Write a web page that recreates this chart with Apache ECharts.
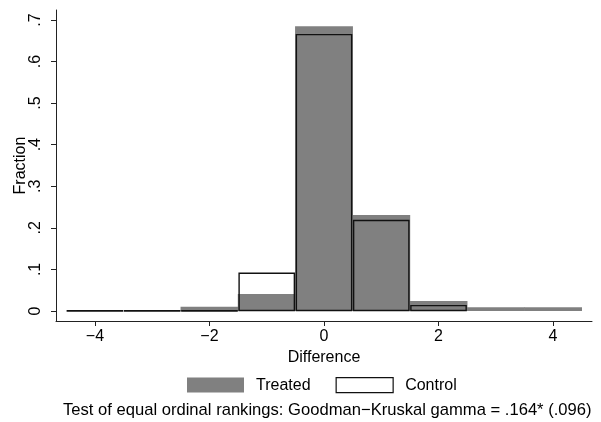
<!DOCTYPE html>
<html>
<head>
<meta charset="utf-8">
<script src="https://cdn.jsdelivr.net/npm/echarts@6/dist/echarts.min.js"></script>
<style>
  html, body { margin: 0; padding: 0; background: #fff; }
  #box { width: 601px; height: 422px; }
</style>
</head>
<body>
<div id="box"></div>
<script>
var chart = echarts.init(document.getElementById('box'));

// bin centres (width 1)
var bins = [-4, -3, -2, -1, 0, 1, 2, 3, 4];
var treated = [0, 0, 0.010, 0.041, 0.685, 0.231, 0.024, 0.009, 0.009];
var control = [0.002, 0.002, 0.002, 0.092, 0.666, 0.219, 0.014, 0, 0];
var xTicks = [-4, -2, 0, 2, 4];
var yTicks = [0, 0.1, 0.2, 0.3, 0.4, 0.5, 0.6, 0.7];
var note = 'Test of equal ordinal rankings: Goodman\u2212Kruskal gamma = .164* (.096)';

var FONT = 'Liberation Sans';
var GRAY = '#808080';

function pairs(vals) {
  var out = [];
  for (var i = 0; i < bins.length; i++) {
    if (vals[i] > 0) out.push([bins[i], vals[i]]);
  }
  return out;
}

function makeRender(filled) {
  return function(params, api) {
    var x = api.value(0), y = api.value(1);
    var p0 = api.coord([x - 0.5, y]);
    var p1 = api.coord([x + 0.5, 0]);
    if (filled) {
      // a hair wider so neighbouring bins join without a seam
      return {
        type: 'rect',
        shape: { x: p0[0] - 0.3, y: p0[1], width: p1[0] - p0[0] + 0.6, height: p1[1] - p0[1] },
        style: { fill: GRAY, stroke: null }
      };
    }
    return {
      type: 'rect',
      shape: { x: p0[0] + 1, y: p0[1] + 0.5, width: p1[0] - p0[0] - 2, height: Math.max(p1[1] - p0[1] - 1, 0.5) },
      style: { fill: null, stroke: '#111', lineWidth: 1.4 }
    };
  };
}

function fmtX(v) {
  return v < 0 ? '\u2212' + Math.abs(v) : String(v);
}
function fmtY(v) {
  if (Math.abs(v) < 1e-9) return '0';
  return '.' + Math.round(v * 10);
}

var option = {
  animation: false,
  textStyle: { fontFamily: FONT },
  grid: { left: 56, right: 9, top: 10, bottom: 101, outerBoundsMode: 'none' },
  xAxis: {
    type: 'value',
    min: -4.68,
    max: 4.68,
    name: 'Difference',
    nameLocation: 'middle',
    nameGap: 26,
    nameTextStyle: { fontFamily: FONT, fontSize: 16, color: '#000' },
    splitLine: { show: false },
    axisLine: { show: true, onZero: false, lineStyle: { color: '#222', width: 1 } },
    axisTick: { show: true, length: 5, customValues: xTicks, lineStyle: { color: '#222' } },
    axisLabel: {
      customValues: xTicks,
      formatter: fmtX,
      margin: 8,
      fontFamily: FONT,
      fontSize: 16,
      color: '#000'
    }
  },
  yAxis: {
    type: 'value',
    min: -0.0241,
    max: 0.724,
    name: 'Fraction',
    nameLocation: 'middle',
    nameRotate: 90,
    nameGap: 27,
    nameMoveOverlap: false,
    nameTextStyle: { fontFamily: FONT, fontSize: 16, color: '#000' },
    splitLine: { show: false },
    axisLine: { show: true, onZero: false, lineStyle: { color: '#222', width: 1 } },
    axisTick: { show: true, length: 5, customValues: yTicks, lineStyle: { color: '#222' } },
    axisLabel: {
      customValues: yTicks,
      formatter: fmtY,
      rotate: 90,
      margin: 12,
      fontFamily: FONT,
      fontSize: 16,
      color: '#000'
    }
  },
  legend: {
    left: 187,
    top: 377,
    padding: 0,
    itemWidth: 57,
    itemHeight: 15,
    itemGap: 25,
    textStyle: { fontFamily: FONT, fontSize: 16, color: '#000', padding: [0, 0, 0, 7] },
    data: [
      { name: 'Treated', icon: 'rect', itemStyle: { color: GRAY, borderWidth: 0 } },
      { name: 'Control', icon: 'rect', itemStyle: { color: '#fff', borderColor: '#111', borderWidth: 1.2 } }
    ]
  },
  graphic: [{
    type: 'text',
    left: 63,
    top: 402,
    style: { text: note, fontFamily: FONT, fontSize: 16.6, fill: '#000' }
  }],
  series: [
    {
      name: 'Treated',
      type: 'custom',
      renderItem: makeRender(true),
      data: pairs(treated),
      itemStyle: { color: GRAY },
      z: 1
    },
    {
      name: 'Control',
      type: 'custom',
      renderItem: makeRender(false),
      data: pairs(control),
      itemStyle: { color: '#fff', borderColor: '#111' },
      z: 2
    }
  ]
};

chart.setOption(option);
</script>
</body>
</html>
